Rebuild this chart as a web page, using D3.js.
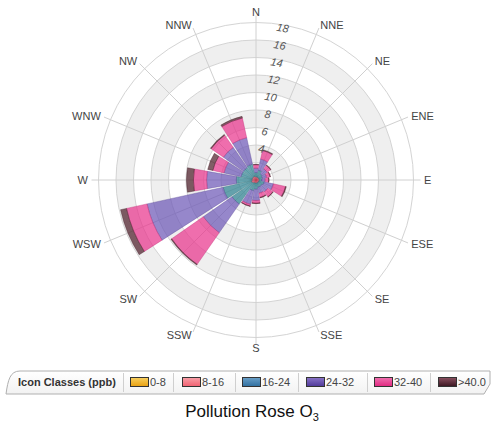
<!DOCTYPE html>
<html><head><meta charset="utf-8">
<script src="https://cdn.jsdelivr.net/npm/d3@7"></script>
<style>body{margin:0;background:#fff}svg{display:block;font-family:"Liberation Sans",Arial,sans-serif}</style>
</head><body>
<svg id="c" width="496" height="423"></svg>
<script>
const directions = ["N","NNE","NE","ENE","E","ESE","SE","SSE","S","SSW","SW","WSW","W","WNW","NW","NNW"];
const classNames = ["0-8","8-16","16-24","24-32","32-40",">40.0"];
// frequency (%) per direction for each concentration class
const c0_8   = [0.05,0.05,0.05,0.05,0.05,0.05,0.05,0.05,0.05,0.05,0.05,0.05,0.05,0.05,0.05,0.05];
const c8_16  = [0.3,0.3,0.3,0.3,0.3,0.3,0.3,0.3,0.3,0.3,0.4,0.5,0.4,0.4,0.4,0.4];
const c16_24 = [0.5,0.8,0.5,0.4,0.3,0.6,0.5,0.5,0.7,0.9,2.9,3.3,1.8,1.3,1.3,1.4];
const c24_32 = [0.5,1.3,0.7,0.5,0.4,1.1,0.8,0.7,1.3,1.6,4.0,8.9,3.4,2.0,2.8,3.1];
const c32_40 = [0.4,1.0,0.5,0.4,0.4,1.4,0.7,0.5,0.3,0.2,4.4,2.4,1.5,1.3,1.7,2.3];
const c40    = [0.05,0.1,0.05,0.05,0.05,0.1,0.05,0.05,0.05,0.05,0.1,0.7,0.8,0.6,0.1,0.2];
const ringTicks = [2,4,6,8,10,12,14,16,18];
const ringLabels = [4,6,8,10,12,14,16,18];

const series = [c0_8,c8_16,c16_24,c24_32,c32_40,c40];
const table = directions.map((d,i)=>{const o={dir:d};classNames.forEach((c,j)=>o[c]=series[j][i]);return o;});

const barColors = ["#f0a818","#e0506a","#2a8090","#6a54b5","#e8308a","#4a1a25"];
const legendTop = ["#f8d060","#f8a0a8","#6aa0c8","#8a74c8","#f070b0","#8a5060"];
const legendBot = ["#e8a010","#f06070","#2f6f9f","#4e3898","#e02880","#3a1520"];

const svg = d3.select("#c");
const cx = 256, cy = 180, R = 157.5;
const g = svg.append("g").attr("transform",`translate(${cx},${cy})`);

const y = d3.scaleLinear().domain([0,18]).range([0,R]);
const x = d3.scaleBand().domain(directions).range([-Math.PI/16, 2*Math.PI - Math.PI/16]).paddingInner(0.1).paddingOuter(0.05);
const ang = d => (directions.indexOf(d))*2*Math.PI/16;

// alternating bands
const bandArc = d3.arc();
[[2,4],[6,8],[10,12],[14,16]].forEach(([a,b])=>{
  g.append("path").attr("d",bandArc({innerRadius:y(a),outerRadius:y(b),startAngle:0,endAngle:2*Math.PI}))
   .attr("fill","#efefef");
});
ringTicks.forEach(t=>{
  g.append("circle").attr("r",y(t)).attr("fill","none").attr("stroke","#d4d4d4").attr("stroke-width",1);
});
// spokes
directions.forEach(d=>{
  const a = ang(d);
  g.append("line").attr("x1",0).attr("y1",0)
   .attr("x2",Math.sin(a)*(R+7)).attr("y2",-Math.cos(a)*(R+7))
   .attr("stroke","#d0d0d0").attr("stroke-width",1);
});

// bars
const stack = d3.stack().keys(classNames)(table);
const arc = d3.arc();
stack.forEach((layer,k)=>{
  g.append("g").selectAll("path").data(layer).join("path")
   .attr("d",d=>arc({innerRadius:y(d[0]),outerRadius:y(d[1]),startAngle:x(d.data.dir),endAngle:x(d.data.dir)+x.bandwidth()}))
   .attr("fill",barColors[k]).attr("fill-opacity",0.7)
   .attr("stroke",d3.color(barColors[k]).darker(0.6)).attr("stroke-opacity",0.6).attr("stroke-width",0.6);
});

// ring labels
const la = 10*Math.PI/180;
ringLabels.forEach(t=>{
  const r = y(t)-3;
  g.append("text").attr("x",Math.sin(la)*r).attr("y",-Math.cos(la)*r)
   .attr("transform",`rotate(10,${Math.sin(la)*r},${-Math.cos(la)*r})`)
   .attr("text-anchor","middle").attr("dominant-baseline","central")
   .attr("font-size",11).attr("fill","#555").attr("font-style","italic").text(t);
});

// direction labels
directions.forEach(d=>{
  const a = ang(d), s = Math.sin(a), r = 168;
  g.append("text").attr("x",s*r).attr("y",-Math.cos(a)*r)
   .attr("text-anchor", s>0.1?"start":(s<-0.1?"end":"middle"))
   .attr("dominant-baseline","central").attr("font-size",11).attr("fill","#444").text(d);
});

// legend
const defs = svg.append("defs");
classNames.forEach((c,i)=>{
  const lg = defs.append("linearGradient").attr("id","lg"+i).attr("x1",0).attr("y1",0).attr("x2",0).attr("y2",1);
  lg.append("stop").attr("offset","0%").attr("stop-color",legendTop[i]);
  lg.append("stop").attr("offset","100%").attr("stop-color",legendBot[i]);
});
const sh = defs.append("linearGradient").attr("id","lgb").attr("x1",0).attr("y1",0).attr("x2",0).attr("y2",1);
sh.append("stop").attr("offset","0%").attr("stop-color","#ffffff");
sh.append("stop").attr("offset","100%").attr("stop-color","#f2f2f2");

svg.append("path").attr("d","M6,394 C8,380 10,371 20,371 L490,371 L490,384 L484,394 Z")
  .attr("fill","url(#lgb)").attr("stroke","#b0b0b0").attr("stroke-width",1);
svg.append("text").attr("x",18).attr("y",386).attr("font-size",11).attr("font-weight","bold").attr("fill","#333").text("Icon Classes (ppb)");
const seps = [123,173,235,298,367,430];
const swX = [130,182,242,306,374,438];
seps.forEach(s=>svg.append("line").attr("x1",s+0.5).attr("x2",s+0.5).attr("y1",373).attr("y2",392).attr("stroke","#cfcfcf"));
classNames.forEach((c,i)=>{
  svg.append("rect").attr("x",swX[i]+0.5).attr("y",377.5).attr("width",18).attr("height",9)
    .attr("fill",`url(#lg${i})`).attr("stroke","#333").attr("stroke-width",1);
  svg.append("text").attr("x",swX[i]+20).attr("y",386).attr("font-size",11).attr("fill","#444").text(c);
});

// title
const tt = svg.append("text").attr("x",252).attr("y",417).attr("text-anchor","middle").attr("font-size",17).attr("fill","#111");
tt.append("tspan").text("Pollution Rose O");
tt.append("tspan").attr("font-size",11).attr("dy",4).text("3");
</script>
</body></html>
